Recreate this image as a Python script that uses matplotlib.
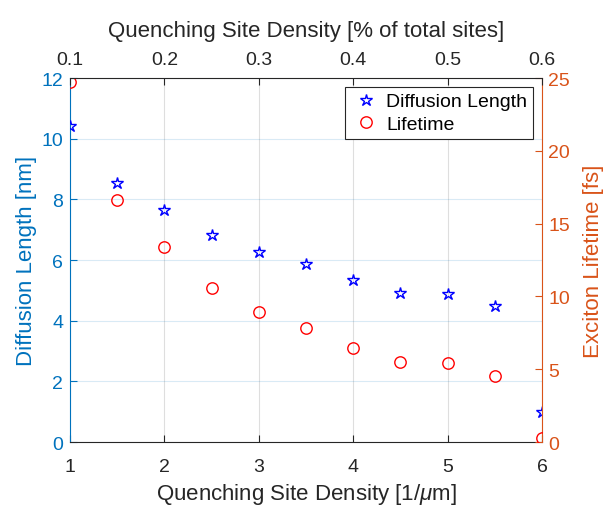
import matplotlib
matplotlib.use("Agg")
import matplotlib.pyplot as plt

plt.rcParams['font.family'] = ['Liberation Sans', 'DejaVu Sans']
plt.rcParams['mathtext.fontset'] = 'custom'
plt.rcParams['mathtext.rm'] = 'Liberation Sans'
plt.rcParams['mathtext.it'] = 'Liberation Sans:italic'

# data
density = [1, 1.5, 2, 2.5, 3, 3.5, 4, 4.5, 5, 5.5, 6]
diff_length = [10.41, 8.54, 7.66, 6.82, 6.25, 5.87, 5.33, 4.91, 4.87, 4.47, 0.99]
lifetime = [24.7, 16.6, 13.36, 10.6, 8.9, 7.85, 6.46, 5.5, 5.44, 4.55, 0.25]
top_ticks = [0.1, 0.2, 0.3, 0.4, 0.5, 0.6]

blue = '#0072BD'
orange = '#D95319'
dark = '#262626'

fig = plt.figure(figsize=(6.04, 5.06), dpi=100, facecolor='white')
ax = fig.add_axes([70/604, 1-443/506, 472/604, 364/506])
ax2 = ax.twinx()
ax3 = ax.twiny()

# left axis: diffusion length
h1, = ax.plot(density, diff_length, ls='none', marker='*', ms=9, mfc='none',
              mec='blue', mew=1.0, label='Diffusion Length', zorder=3)
ax.set_xlim(1, 6)
ax.set_ylim(0, 12)
ax.set_xticks([1, 2, 3, 4, 5, 6])
ax.set_yticks([0, 2, 4, 6, 8, 10, 12])
ax.set_xlabel(r'Quenching Site Density [1/$\mu$m]', fontsize=16, color=dark, labelpad=4)
ax.set_ylabel('Diffusion Length [nm]', fontsize=16, color=blue, labelpad=3)
ax.tick_params(axis='x', direction='in', length=5, pad=11.5, labelsize=14, colors=dark)
ax.tick_params(axis='y', direction='in', length=5, pad=5, labelsize=14, colors=blue)
ax.xaxis.grid(True, color=dark, alpha=0.15, lw=0.8)
ax.yaxis.grid(True, color=blue, alpha=0.15, lw=0.8)
ax.set_axisbelow(True)
for s in ['top', 'right']:
    ax.spines[s].set_visible(False)
ax.spines['left'].set_color(blue)
ax.spines['bottom'].set_color(dark)

# right axis: lifetime
h2, = ax2.plot(density, lifetime, ls='none', marker='o', ms=8.2, mfc='none',
               mec='red', mew=1.0, label='Lifetime', zorder=3)
ax2.set_ylim(0, 25)
ax2.set_yticks([0, 5, 10, 15, 20, 25])
ax2.set_ylabel('Exciton Lifetime [fs]', fontsize=16, color=orange, labelpad=9.5)
ax2.tick_params(axis='y', direction='in', length=5, pad=4.5, labelsize=14, colors=orange)
for s in ['top', 'left', 'bottom']:
    ax2.spines[s].set_visible(False)
ax2.spines['right'].set_color(orange)

# top axis: percentage of total sites
ax3.set_xlim(0.1, 0.6)
ax3.set_xticks(top_ticks)
ax3.set_xticklabels(['0.1', '0.2', '0.3', '0.4', '0.5', '0.6'])
ax3.set_xlabel('Quenching Site Density [% of total sites]', fontsize=16, color=dark, labelpad=10.5)
ax3.tick_params(axis='x', direction='in', length=5, pad=7.3, labelsize=14, colors=dark)
for s in ['bottom', 'left', 'right']:
    ax3.spines[s].set_visible(False)
ax3.spines['top'].set_color(dark)

leg = ax3.legend(handles=[h1, h2], loc='upper right', fontsize=14, frameon=True,
                 fancybox=False, edgecolor=dark, framealpha=1,
                 bbox_to_anchor=(1 - 9/472, 1 - 9/364), borderaxespad=0,
                 handletextpad=0.3, borderpad=0.3, labelspacing=0.25, handlelength=1.5)
leg.get_frame().set_linewidth(0.8)

fig.savefig('out.png', dpi=100)
